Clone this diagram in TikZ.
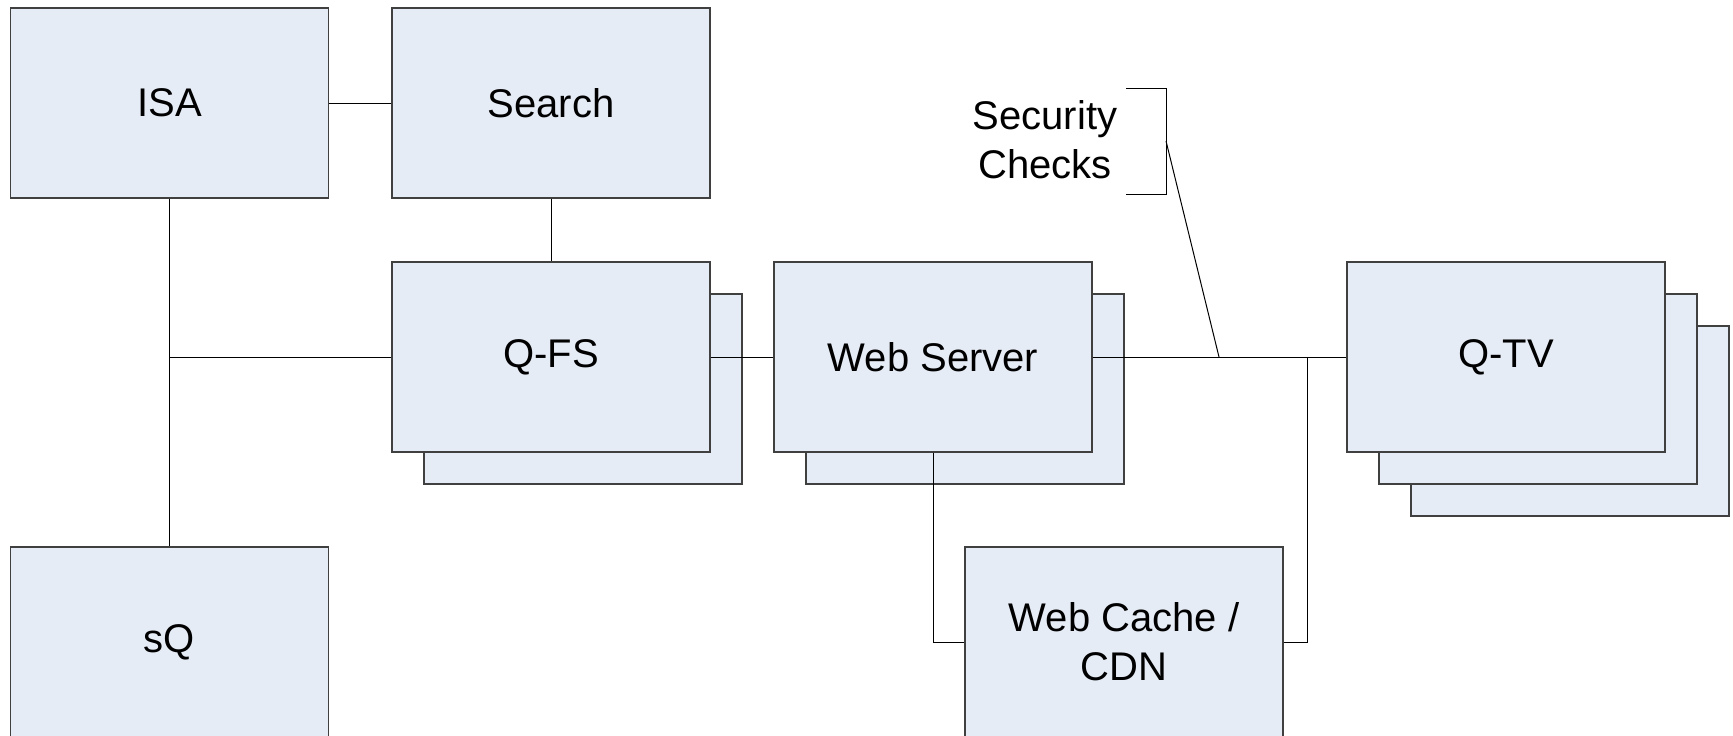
\documentclass[tikz,border=0pt]{standalone}
\usepackage{fontspec}
\setmainfont{Liberation Sans}
\definecolor{boxfill}{HTML}{E6ECF6}
\definecolor{boxline}{HTML}{404040}
\begin{document}
\begin{tikzpicture}[x=0.5pt,y=-0.5pt,
  unit/.style={draw=boxline,fill=boxfill,line width=0.6pt,rectangle,
    minimum width=159pt,minimum height=95pt,inner sep=0pt,
    font=\fontsize{20}{24.5}\selectfont,align=center},
  link/.style={draw=black,line width=0.5pt},
  lbl/.style={font=\fontsize{20}{24.5}\selectfont,align=center,inner sep=0pt}]
\useasboundingbox (0,0) rectangle (1733,735);
% back copies
\node[unit] (qfsB) at (583,389) {};
\node[unit] (webB) at (965,389) {};
\node[unit] (qtvC) at (1570,421) {};
\node[unit] (qtvB) at (1538,389) {};
% main boxes
\node[unit] (isa) at (169.5,103) {ISA};
\node[unit] (search) at (551,103) {Search};
\node[unit] (qfs) at (551,357) {Q-FS};
\node[unit] (web) at (933,357) {Web Server};
\node[unit] (qtv) at (1506,357) {Q-TV};
\node[unit] (sq) at (169.5,642) {sQ};
\node[unit] (cache) at (1124,642) {Web Cache /\\CDN};
% label
\node[lbl] (sec) at (1045,140) {Security\\Checks};
% junctions
\coordinate (j1) at (169.5,357);
\coordinate (j2) at (1219,357);
\coordinate (j3) at (1307,357);
\coordinate (bt) at (1166,88);
\coordinate (bm) at (1166,141);
\coordinate (bb) at (1166,194);
\coordinate (btl) at (1126,88);
\coordinate (bbl) at (1126,194);
% connectors
\draw[link] (isa.east) -- (search.west);
\draw[link] (isa.south) -- (sq.north);
\draw[link] (j1) -- (qfs.west);
\draw[link] (search.south) -- (qfs.north);
\draw[link] (qfs.east) -- (web.west);
\draw[link] (web.east) -- (qtv.west);
\draw[link] (web.south) |- (cache.west);
\draw[link] (cache.east) -| (j3);
\draw[link] (j2) -- (bm);
\draw[link] (btl) -- (bt) -- (bb) -- (bbl);
\end{tikzpicture}
\end{document}
